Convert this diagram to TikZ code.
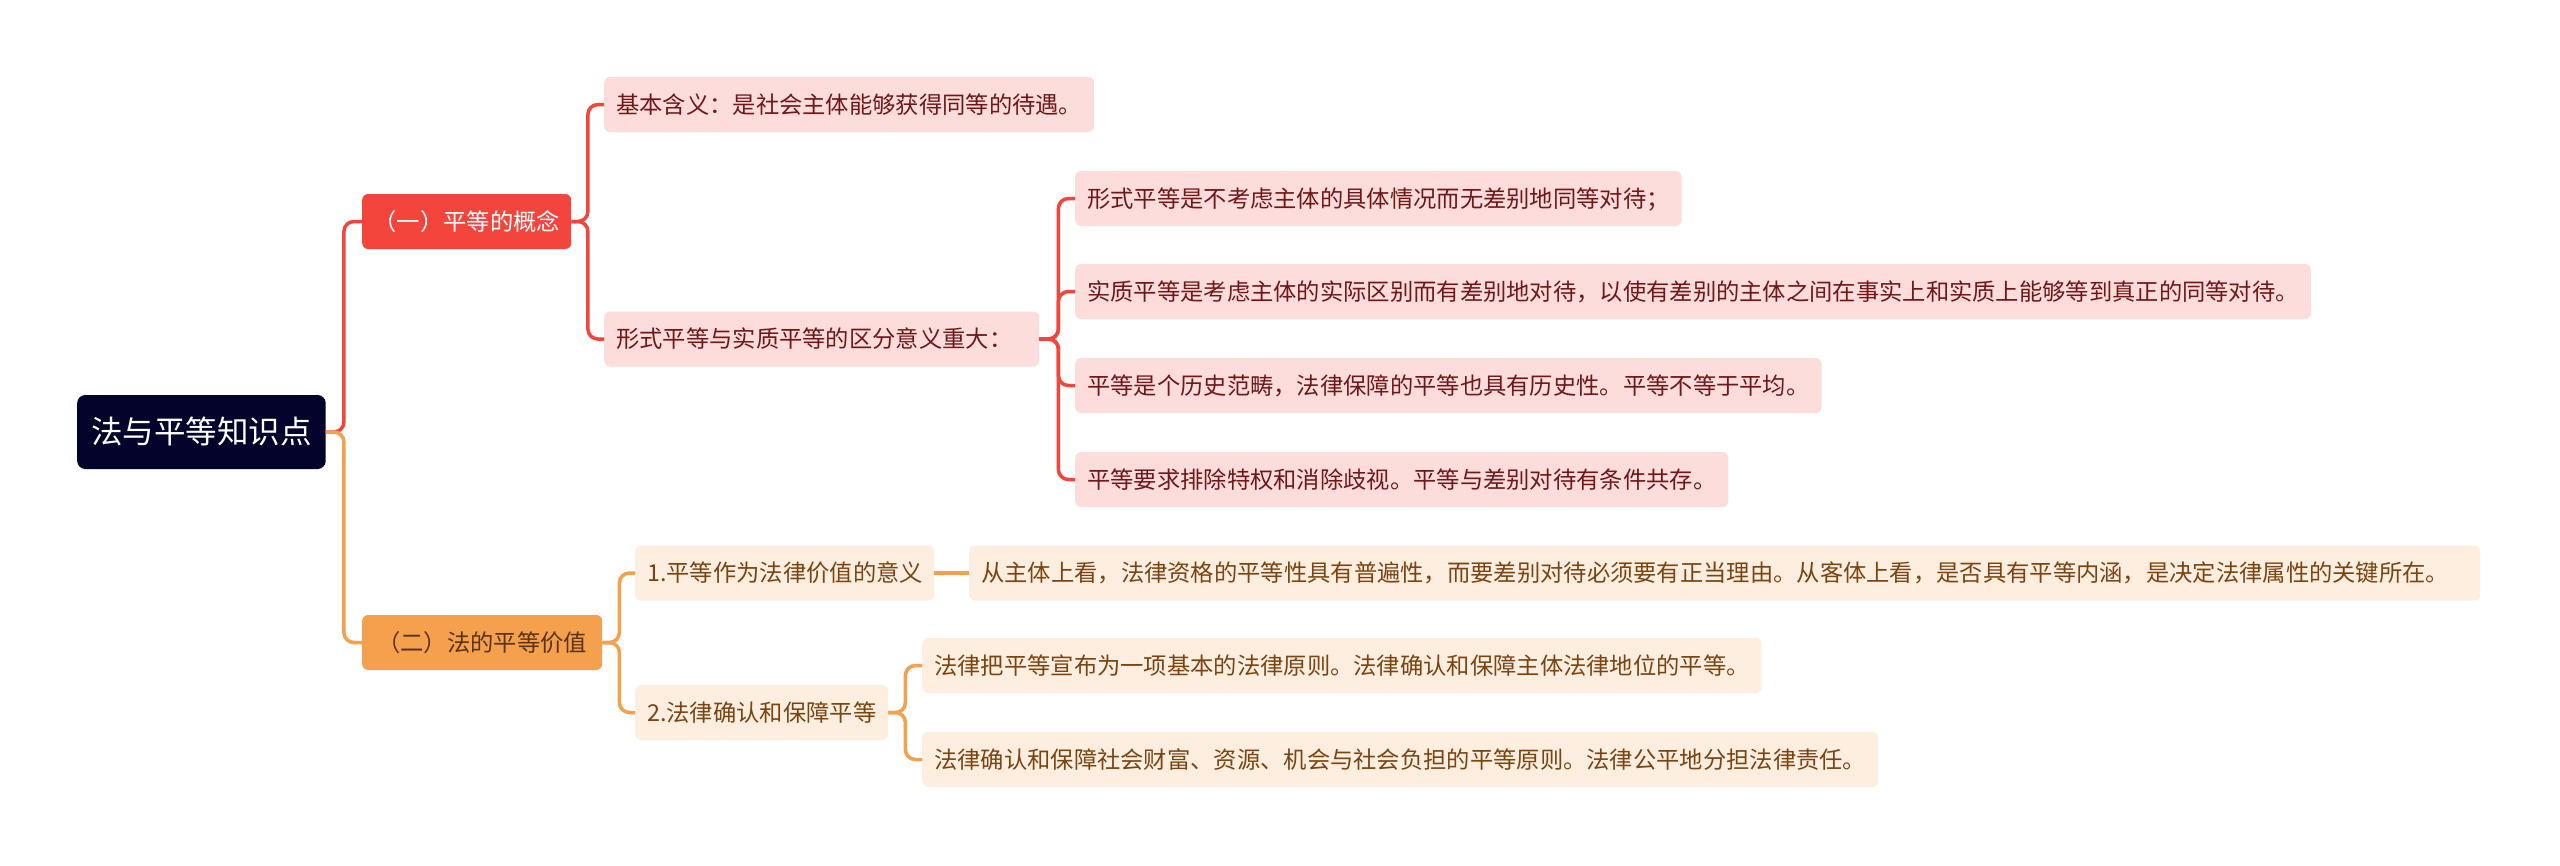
\documentclass[tikz,border=0pt]{standalone}
\usepackage{fontspec}
\newfontfamily\cjk{Noto Sans CJK SC}
\definecolor{rootc}{HTML}{03032B}
\definecolor{redc}{HTML}{F4453D}
\definecolor{orc}{HTML}{F4A04D}
\definecolor{pinkc}{HTML}{FDDCDC}
\definecolor{creamc}{HTML}{FDEEDF}
\definecolor{redtxt}{HTML}{701818}
\definecolor{ortxt}{HTML}{7A4513}
\definecolor{brtxt}{HTML}{5A3311}
\tikzset{
  basebox/.style={rounded corners=6pt, anchor=west, inner ysep=0pt, inner xsep=12pt,
    minimum height=55pt, font=\cjk\fontsize{23.3}{28}\selectfont,
    text height=18.6pt, text depth=0.9pt},
  rootbox/.style={basebox, fill=rootc, text=white, rounded corners=8pt, minimum height=74pt,
    inner xsep=14pt, font=\cjk\fontsize{31.5}{36}\selectfont, text height=25.2pt, text depth=1.3pt},
  redmain/.style={basebox, fill=redc, text=white, inner xsep=0pt},
  ormain/.style={basebox, fill=orc, text=brtxt, inner xsep=0pt},
  redleaf/.style={basebox, fill=pinkc, text=redtxt, align=left},
  orleaf/.style={basebox, fill=creamc, text=ortxt, align=left},
  redline/.style={draw=redc, line width=3.5pt, rounded corners=10pt},
  orline/.style={draw=orc, line width=3.5pt, rounded corners=10pt}
}
\begin{document}
\begin{tikzpicture}[x=1pt,y=-1pt]
\useasboundingbox (0,0) rectangle (2560,865);
\fill[white] (0,0) rectangle (2560,865);

\node[rootbox] (root) at (77,432) {法与平等知识点};

\node[redmain, minimum width=209pt] (b1) at (362,221.5) {（一）平等的概念};
\node[ormain, minimum width=240pt] (b2) at (362,642.5) {（二）法的平等价值};

\node[redleaf] (l1) at (604,104.5) {基本含义：是社会主体能够获得同等的待遇。};
\node[redleaf, text width=411pt] (l2) at (604,339) {形式平等与实质平等的区分意义重大：};

\node[redleaf] (s1) at (1075,198.5) {形式平等是不考虑主体的具体情况而无差别地同等对待；};
\node[redleaf] (s2) at (1075,291.5) {实质平等是考虑主体的实际区别而有差别地对待，以使有差别的主体之间在事实上和实质上能够等到真正的同等对待。};
\node[redleaf] (s3) at (1075,385.5) {平等是个历史范畴，法律保障的平等也具有历史性。平等不等于平均。};
\node[redleaf] (s4) at (1075,479.5) {平等要求排除特权和消除歧视。平等与差别对待有条件共存。};

\node[orleaf, text width=275pt] (o1) at (635,573) {1.平等作为法律价值的意义};
\node[orleaf, text width=229pt] (o2) at (635,712.5) {2.法律确认和保障平等};

\node[orleaf, text width=1487pt] (o1a) at (969,573) {从主体上看，法律资格的平等性具有普遍性，而要差别对待必须要有正当理由。从客体上看，是否具有平等内涵，是决定法律属性的关键所在。};

\node[orleaf] (o3) at (922,665.5) {法律把平等宣布为一项基本的法律原则。法律确认和保障主体法律地位的平等。};
\node[orleaf] (o4) at (922,759.5) {法律确认和保障社会财富、资源、机会与社会负担的平等原则。法律公平地分担法律责任。};

\begin{scope}[on background layer/.try]
\end{scope}

\draw[redline] (root.east) -- ++(18,0) |- (b1.west);
\draw[orline] (root.east) -- ++(18,0) |- (b2.west);

\draw[redline] (b1.east) -- ++(16.5,0) |- (l1.west);
\draw[redline] (b1.east) -- ++(16.5,0) |- (l2.west);

\draw[redline] (l2.east) -- ++(19,0) |- (s1.west);
\draw[redline] (l2.east) -- ++(19,0) |- (s2.west);
\draw[redline] (l2.east) -- ++(19,0) |- (s3.west);
\draw[redline] (l2.east) -- ++(19,0) |- (s4.west);

\draw[orline] (b2.east) -- ++(17,0) |- (o1.west);
\draw[orline] (b2.east) -- ++(17,0) |- (o2.west);

\draw[orline] (o1.east) -- (o1a.west);

\draw[orline] (o2.east) -- ++(17,0) |- (o3.west);
\draw[orline] (o2.east) -- ++(17,0) |- (o4.west);
\end{tikzpicture}
\end{document}
